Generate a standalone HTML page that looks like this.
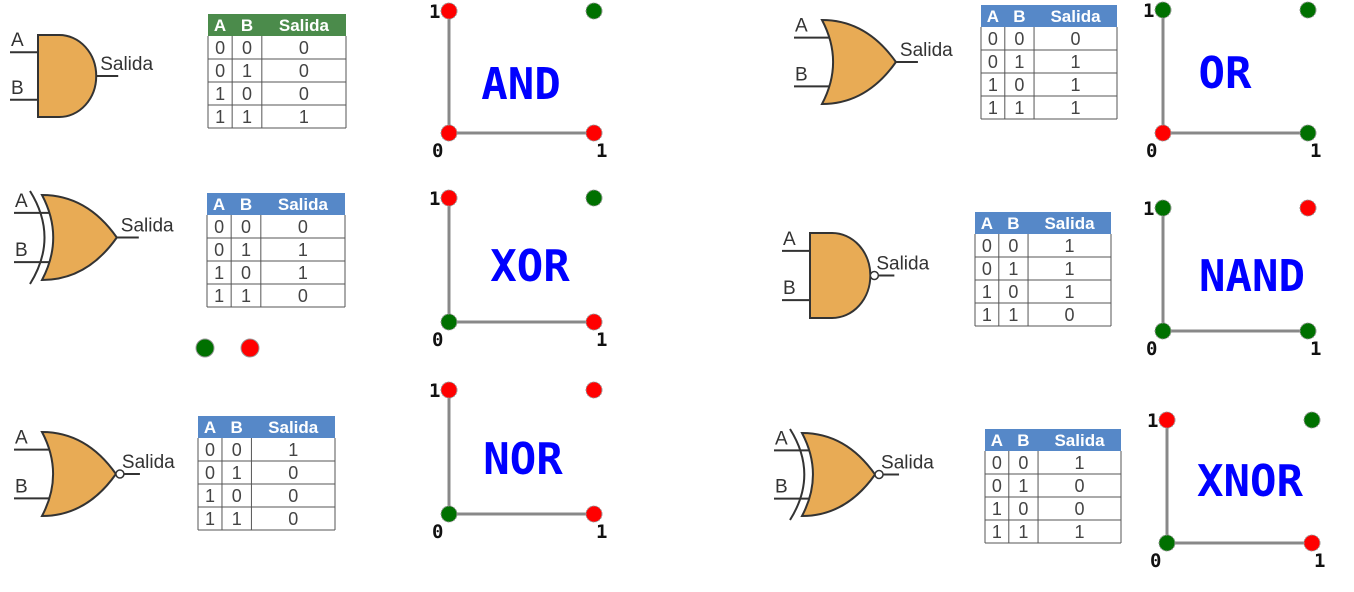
<!DOCTYPE html>
<html><head><meta charset="utf-8"><style>
html,body{margin:0;padding:0;background:#fff;width:1354px;height:592px;overflow:hidden}
svg{display:block}
</style></head><body>
<svg id="s" width="1354" height="592" xmlns="http://www.w3.org/2000/svg"></svg>
<script>
const NS='http://www.w3.org/2000/svg';
const svg=document.getElementById('s');
// data
const gateNames=['AND','OR','XOR','NAND','NOR','XNOR'];
const gateTypes=['and','or','xor','and','or','xor'];
const gateBubbles=[false,false,false,true,true,true];
const headerColors=['#4b8b4b','#5688c8','#5688c8','#5688c8','#5688c8','#5688c8'];
const inA=[0,0,1,1];
const inB=[0,1,0,1];
const outputs=[[0,0,0,1],[0,1,1,1],[0,1,1,0],[1,1,1,0],[1,0,0,0],[1,0,0,1]];
// dot colors (1 = green, 0 = red) for (0,0),(1,0),(0,1),(1,1) as pictured
const dotColors=[[0,0,0,1],[0,1,1,1],[1,0,0,1],[1,1,1,0],[1,0,0,0],[1,0,0,1]];
// layout
const gatePos=[[38,35,82],[822,20,84],[42,195,85],[810,233,85],[42,432,84],[802,433,83]];
const tablePos=[[208,14,138],[981,5,136],[207,193,138],[975,212,136],[198,416,137],[985,429,136]];
const plotPos=[[449,133,145,122],[1163,133,145,123],[449,322,145,124],[1163,331,145,123],[449,514,145,124],[1167,543,145,123]];
const titlePos=[[521,83],[1225,72],[530,265],[1252,275],[523,458],[1250,480]];

function el(tag,attrs,parent,name){const e=document.createElementNS(NS,tag);for(const k in attrs)e.setAttribute(k,attrs[k]);


(parent||svg).appendChild(e);return e;}
function txt(x,y,s,attrs,parent,name){const t=el('text',Object.assign({x:x,y:y},attrs),parent,name);t.textContent=s;return t;}

for(let i=0;i<6;i++){
  const g=el('g',{},svg,'panel-'+gateNames[i].toLowerCase());
  const [gx,gy,gh]=gatePos[i];const type=gateTypes[i];
  const gg=el('g',{},g,'gate-'+gateNames[i].toLowerCase());
  const yA=gy+gh*0.21, yB=gy+gh*0.79, ym=gy+gh/2;
  let d, outX;
  if(type==='and'){
    const w=gh*0.76, r=gh/2; d=`M${gx},${gy} H${gx+w-r} A${r*0.9},${r} 0 0 1 ${gx+w-r},${gy+gh} H${gx} Z`; outX=gx+w-r+r*0.9;
  } else {
    const w=gh*0.88, lx=gx;
    d=`M${lx},${gy} Q${lx+w*0.6},${gy} ${lx+w},${ym} Q${lx+w*0.6},${gy+gh} ${lx},${gy+gh} Q${lx+w*0.3},${ym} ${lx},${gy} Z`; outX=lx+w;
  }
  el('line',{x1:gx-28,y1:yA,x2:gx+10,y2:yA,stroke:'#333','stroke-width':2},gg,'input-a-line');
  el('line',{x1:gx-28,y1:yB,x2:gx+10,y2:yB,stroke:'#333','stroke-width':2},gg,'input-b-line');
  if(type==='xor') el('path',{d:`M${gx-12},${gy-4} Q${gx+gh*0.2},${ym} ${gx-12},${gy+gh+4}`,fill:'none',stroke:'#333','stroke-width':2},gg,'xor-arc');
  el('path',{d:d,fill:'#e8ab55',stroke:'#333','stroke-width':2},gg,'gate-body');
  let ox=outX;
  if(gateBubbles[i]){el('circle',{cx:outX+4,cy:ym,r:4,fill:'#fff',stroke:'#333','stroke-width':1.5},gg,'not-bubble');ox=outX+8;}
  el('line',{x1:ox,y1:ym,x2:ox+(gateBubbles[i]?16:22),y2:ym,stroke:'#333','stroke-width':2},gg,'output-line');
  const lf={'font-family':'Liberation Sans, sans-serif','font-size':19,fill:'#333'};
  txt(gx-27,yA-6,'A',lf,gg,'label-a');
  txt(gx-27,yB-6,'B',lf,gg,'label-b');
  txt(ox+(gateBubbles[i]?-2:4),ym-6,'Salida',lf,gg,'label-salida');
  // table
  const [tx,ty,tw]=tablePos[i];const tg=el('g',{},g,'truth-table-'+gateNames[i].toLowerCase());
  const c1=tw*0.175,c2=tw*0.215,hh=22,rh=23;
  el('rect',{x:tx,y:ty,width:tw,height:hh,fill:headerColors[i]},tg,'table-header');
  const cols=[tx,tx+c1,tx+c1+c2,tx+tw];
  const hdr=['A','B','Salida'];
  for(let c=0;c<3;c++) txt((cols[c]+cols[c+1])/2,ty+17,hdr[c],{'text-anchor':'middle','font-family':'Liberation Sans, sans-serif','font-size':17,'font-weight':'bold',fill:'#fff'},tg,'header-'+hdr[c].toLowerCase());
  for(let r=0;r<4;r++){
    const yy=ty+hh+r*rh;
    const vals=[inA[r],inB[r],outputs[i][r]];
    for(let c=0;c<3;c++) txt((cols[c]+cols[c+1])/2,yy+18,String(vals[c]),{'text-anchor':'middle','font-family':'Liberation Sans, sans-serif','font-size':18,fill:'#444'},tg,'cell');
    el('line',{x1:tx,y1:yy+rh,x2:tx+tw,y2:yy+rh,stroke:'#555','stroke-width':1},tg,'row-border');
  }
  for(let c=0;c<4;c++) el('line',{x1:cols[c],y1:ty+hh,x2:cols[c],y2:ty+hh+4*rh,stroke:'#555','stroke-width':1},tg,'col-border');
  // plot
  const [px,py,pw,ph]=plotPos[i];const pg=el('g',{},g,'plot-'+gateNames[i].toLowerCase());
  const X=v=>px+v*pw, Y=v=>py-v*ph;
  el('line',{x1:X(0),y1:Y(0),x2:X(0),y2:Y(1),stroke:'#888','stroke-width':3},pg,'y-axis');
  el('line',{x1:X(0),y1:Y(0),x2:X(1),y2:Y(0),stroke:'#888','stroke-width':3},pg,'x-axis');
  const pts=[[0,0],[1,0],[0,1],[1,1]];
  pts.forEach((p,k)=>{el('circle',{cx:X(p[0]),cy:Y(p[1]),r:8,fill:dotColors[i][k]?'#007000':'#ff0000',stroke:'#999','stroke-width':1,'stroke-dasharray':'2,1'},pg,'point-'+p[0]+p[1]);});
  const lf2={'font-family':'DejaVu Sans Mono, monospace','font-size':19,'font-weight':'bold',fill:'#111'};
  txt(X(0)-20,Y(1)+7,'1',lf2,pg,'y-tick-1');
  txt(X(0)-17,Y(0)+24,'0',lf2,pg,'x-tick-0');
  txt(X(1)+2,Y(0)+24,'1',lf2,pg,'x-tick-1');
  txt(titlePos[i][0],titlePos[i][1]+16,gateNames[i],{'text-anchor':'middle','font-family':'DejaVu Sans Mono, monospace','font-size':44,'font-weight':'bold',fill:'#0000ff'},pg,'plot-title');
}
el('circle',{cx:205,cy:348,r:9,fill:'#007000',stroke:'#999','stroke-width':1},svg,'stray-green-dot');
el('circle',{cx:250,cy:348,r:9,fill:'#ff0000',stroke:'#999','stroke-width':1},svg,'stray-red-dot');
</script>
</body></html>
